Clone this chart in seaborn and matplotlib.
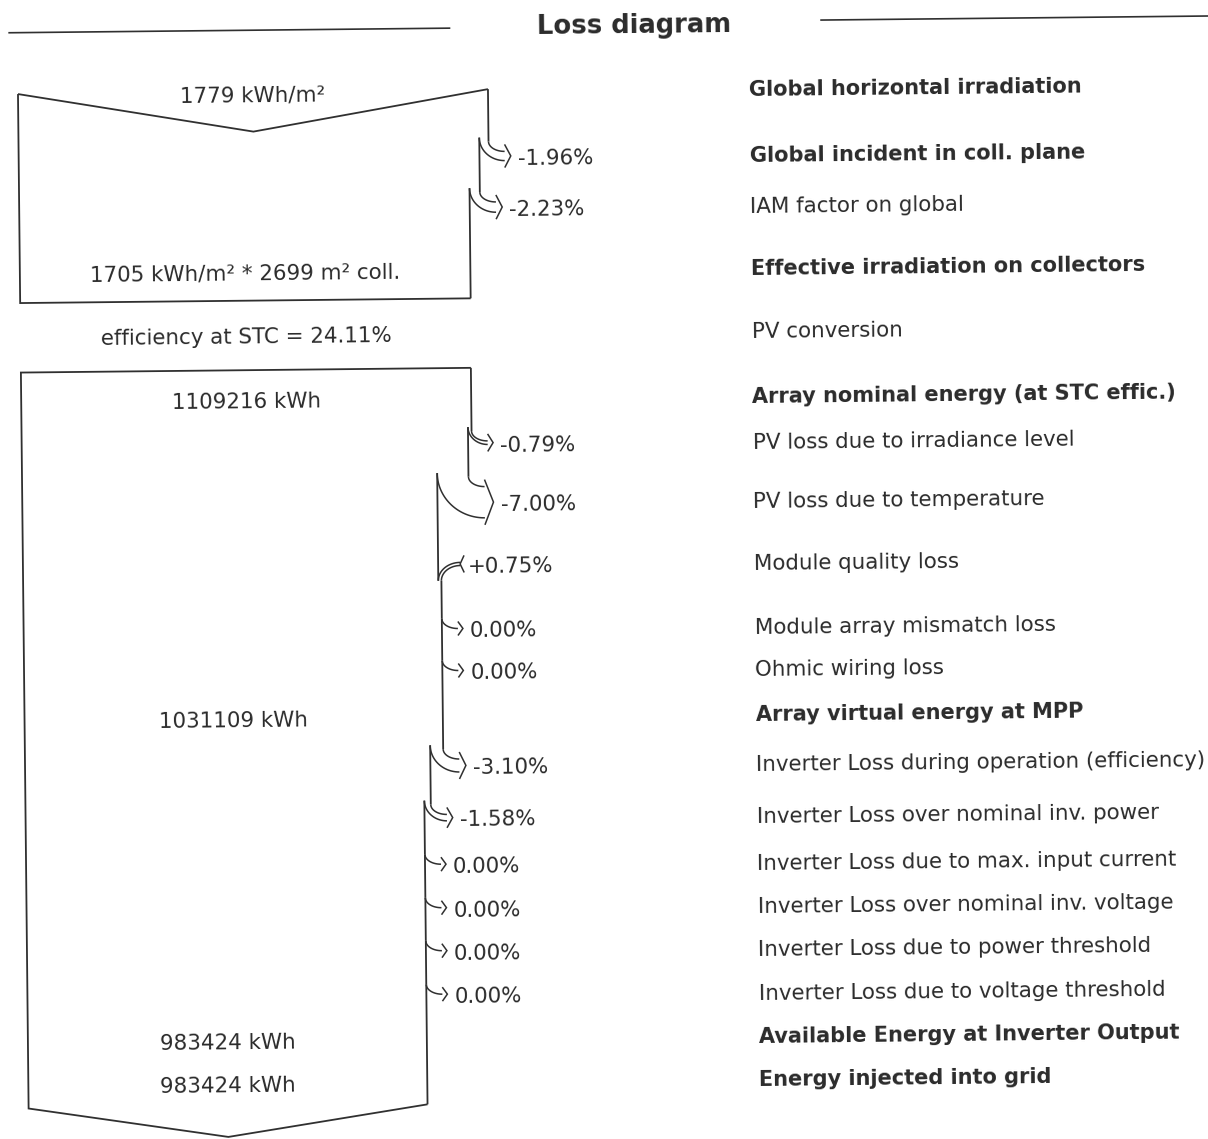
import numpy as np
import matplotlib
matplotlib.use("Agg")
import matplotlib.pyplot as plt
from matplotlib.transforms import Affine2D
import seaborn as sns

# ---------------- data ----------------
TITLE = "Loss diagram"
STEP_LABELS = [
    "Global horizontal irradiation",
    "Global incident in coll. plane",
    "IAM factor on global",
    "Effective irradiation on collectors",
    "PV conversion",
    "Array nominal energy (at STC effic.)",
    "PV loss due to irradiance level",
    "PV loss due to temperature",
    "Module quality loss",
    "Module array mismatch loss",
    "Ohmic wiring loss",
    "Array virtual energy at MPP",
    "Inverter Loss during operation (efficiency)",
    "Inverter Loss over nominal inv. power",
    "Inverter Loss due to max. input current",
    "Inverter Loss over nominal inv. voltage",
    "Inverter Loss due to power threshold",
    "Inverter Loss due to voltage threshold",
    "Available Energy at Inverter Output",
    "Energy injected into grid",
]
STEP_IS_TOTAL = [True, True, False, True, False, True, False, False, False, False,
                 False, True, False, False, False, False, False, False, True, True]

GHI_KWH_M2 = 1779
EFF_IRR_KWH_M2 = 1705
COLLECTOR_AREA_M2 = 2699
STC_EFFICIENCY_PCT = 24.11
NOMINAL_ENERGY_KWH = 1109216
MPP_ENERGY_KWH = 1031109
INVERTER_OUT_KWH = 983424
GRID_KWH = 983424

OPTICAL_LOSSES_PCT = [-1.96, -2.23]
ARRAY_LOSSES_PCT = [-0.79, -7.00, 0.75, 0.00, 0.00]
INVERTER_LOSSES_PCT = [-3.10, -1.58, 0.00, 0.00, 0.00, 0.00]

# ---------------- layout (pixels) ----------------
W, H = 1208, 1139
ROW_BASE = [98, 164, 215, 276.5, 340, 405, 450.5, 510, 571.5, 636, 678, 723,
            773, 825, 871.5, 915, 958, 1001.5, 1045, 1088]
OPTICAL_ROWS = [1, 2]
ARRAY_ROWS = [6, 7, 8, 9, 10]
INVERTER_ROWS = [12, 13, 14, 15, 16, 17]
X0 = 23
BOX1_W, BOX1_TOP, BOX1_NOTCH, BOX1_BOTTOM = 470, 88, 128, 297
BOX2_W, BOX2_TOP, BOX2_BOTTOM, BOX2_TIP = 450, 366.5, 1102.5, 1133
LABEL_X = 754
TILT_DEG = 0.6
INK = "#2b2b2b"
LINE = "#303030"
FS = 15.4
FS_BOLD = 15.0
FS_TITLE = 18.6

sns.set_theme(style="white")
plt.rcParams["font.family"] = ["DejaVu Sans"]

fig = plt.figure(figsize=(W / 100, H / 100), dpi=100)
fig.patch.set_facecolor("white")
ax = fig.add_axes([0, 0, 1, 1])
ax.set_xlim(0, W)
ax.set_ylim(H, 0)
ax.axis("off")

TR = Affine2D().rotate_deg_around(600, 570, -TILT_DEG) + ax.transData


def line(xs, ys, lw=1.3):
    ax.plot(xs, ys, color=LINE, lw=lw, transform=TR, solid_capstyle="butt",
            solid_joinstyle="miter")


def text(x, y, s, ha="left", bold=False, size=FS):
    ax.text(x, y, s, ha=ha, va="baseline", color=INK, fontsize=size,
            fontweight="bold" if bold else "normal", transform=TR,
            rotation=TILT_DEG, rotation_mode="anchor")


def fmt(v):
    return f"+{v:.2f}%" if v > 0 else f"{v:.2f}%"


T = np.linspace(0, np.pi / 2, 40)


def draw_flow(width, y_top, y_bottom, losses, rows):
    """Right edge of a block, narrowing (or widening) at every loss arrow."""
    x_edge = X0 + width
    seg_start = y_top
    widths_after = []
    for loss, r in zip(losses, rows):
        base = ROW_BASE[r]
        cy = base - 9
        new_width = width * (1 + loss / 100.0)
        x_new = X0 + new_width
        band = abs(x_edge - x_new)
        if loss <= 0:
            xa = x_edge + 16
            yt, yb = cy - band / 2, cy + band / 2
            y0 = yt - 10
            line([x_edge, x_edge], [seg_start, y0])
            line(xa - (xa - x_edge) * np.cos(T), y0 + (yt - y0) * np.sin(T), lw=1.1)
            y0i = y0
            if band > 0.5:
                y0i = y0 - 4
                line(xa - (xa - x_new) * np.cos(T), y0i + (yb - y0i) * np.sin(T), lw=1.1)
            tip = xa + 5 + 0.12 * band
            hh = band / 2 + 7
            line([xa, tip, xa], [cy - hh, cy, cy + hh], lw=1.1)
            text(tip + 7, base, fmt(loss))
            seg_start = y0i
        else:
            xa = x_edge + 22
            ye = cy + band / 2 + 15
            line([x_edge, x_edge], [seg_start, ye])
            ys_up = cy - band / 2
            ys_lo = cy + band / 2
            line(xa - (xa - x_edge) * np.sin(T), ye - (ye - ys_up) * np.cos(T), lw=1.1)
            line(xa - (xa - x_new) * np.sin(T), ye - (ye - ys_lo) * np.cos(T), lw=1.1)
            hh = band / 2 + 7
            line([xa + 4, xa, xa + 4], [cy - hh, cy, cy + hh], lw=1.1)
            text(xa + 8, base, fmt(loss))
            seg_start = ye
        x_edge = x_new
        width = new_width
        widths_after.append(width)
    line([x_edge, x_edge], [seg_start, y_bottom])
    return widths_after


# ---------------- title ----------------
line([14, 456], [26.6, 26.6], lw=1.2)
line([826, 1225], [22.4, 22.4], lw=1.2)
text(640, 33.4, TITLE, ha="center", bold=True, size=FS_TITLE)

# ---------------- block 1: irradiation ----------------
w1 = draw_flow(BOX1_W, BOX1_TOP, BOX1_BOTTOM, OPTICAL_LOSSES_PCT, OPTICAL_ROWS)
w1_end = w1[-1]
line([X0, X0 + BOX1_W / 2, X0 + BOX1_W], [BOX1_TOP, BOX1_NOTCH, BOX1_TOP])
line([X0, X0, X0 + w1_end], [BOX1_TOP, BOX1_BOTTOM, BOX1_BOTTOM])
text(X0 + BOX1_W / 2, ROW_BASE[0], f"{GHI_KWH_M2} kWh/m²", ha="center")
text(X0 + w1_end / 2, ROW_BASE[3],
     f"{EFF_IRR_KWH_M2} kWh/m² * {COLLECTOR_AREA_M2} m² coll.", ha="center")
text(X0 + w1_end / 2, ROW_BASE[4],
     f"efficiency at STC = {STC_EFFICIENCY_PCT:.2f}%", ha="center")

# ---------------- block 2: energy ----------------
w2 = draw_flow(BOX2_W, BOX2_TOP, BOX2_BOTTOM,
               ARRAY_LOSSES_PCT + INVERTER_LOSSES_PCT, ARRAY_ROWS + INVERTER_ROWS)
w2_mpp = w2[len(ARRAY_LOSSES_PCT) - 1]
w2_end = w2[-1]
line([X0 + BOX2_W, X0, X0, X0 + w2_end / 2, X0 + w2_end],
     [BOX2_TOP, BOX2_TOP, BOX2_BOTTOM, BOX2_TIP, BOX2_BOTTOM])
text(X0 + BOX2_W / 2, ROW_BASE[5], f"{NOMINAL_ENERGY_KWH} kWh", ha="center")
text(X0 + w2_mpp / 2, ROW_BASE[11], f"{MPP_ENERGY_KWH} kWh", ha="center")
text(X0 + w2_end / 2, ROW_BASE[18], f"{INVERTER_OUT_KWH} kWh", ha="center")
text(X0 + w2_end / 2, ROW_BASE[19], f"{GRID_KWH} kWh", ha="center")

# ---------------- step labels ----------------
for lab, is_total, yb in zip(STEP_LABELS, STEP_IS_TOTAL, ROW_BASE):
    text(LABEL_X, yb, lab, bold=is_total, size=FS_BOLD if is_total else FS)

fig.savefig("out.png", dpi=100, facecolor="white")
